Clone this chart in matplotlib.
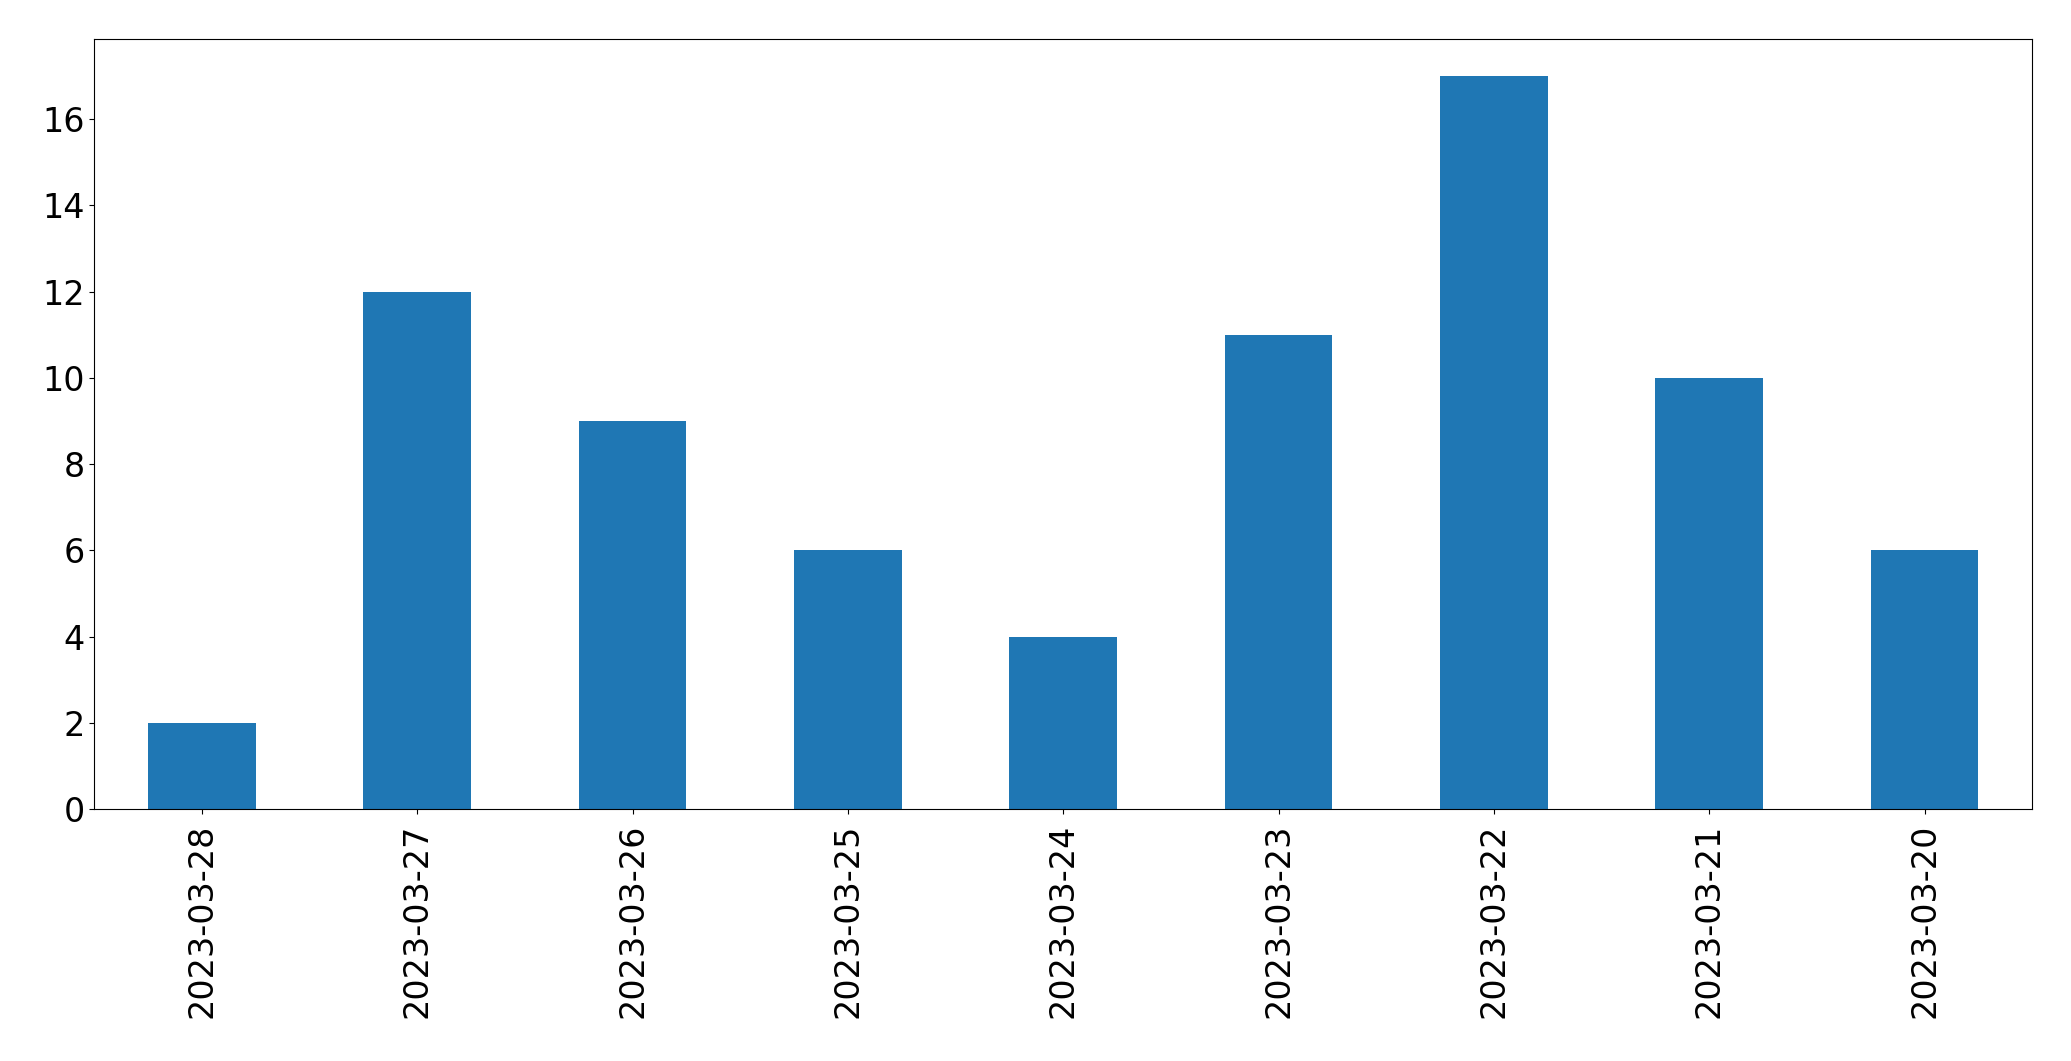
import matplotlib
matplotlib.use("Agg")
import matplotlib.pyplot as plt
import pandas as pd

dates = ["2023-03-28", "2023-03-27", "2023-03-26", "2023-03-25", "2023-03-24",
         "2023-03-23", "2023-03-22", "2023-03-21", "2023-03-20"]
counts = [2, 12, 9, 6, 4, 11, 17, 10, 6]

plt.rcParams.update({'font.size': 24})

series = pd.Series(counts, index=dates)

fig, ax = plt.subplots(figsize=(20.71, 10.61), dpi=100)
series.plot.bar(ax=ax, color='#1f77b4')
ax.set_xlabel("")
ax.tick_params(axis='x', pad=7)
fig.subplots_adjust(left=0.0455, right=0.9813, top=0.963, bottom=0.2375)
fig.savefig("out.png", dpi=100)
